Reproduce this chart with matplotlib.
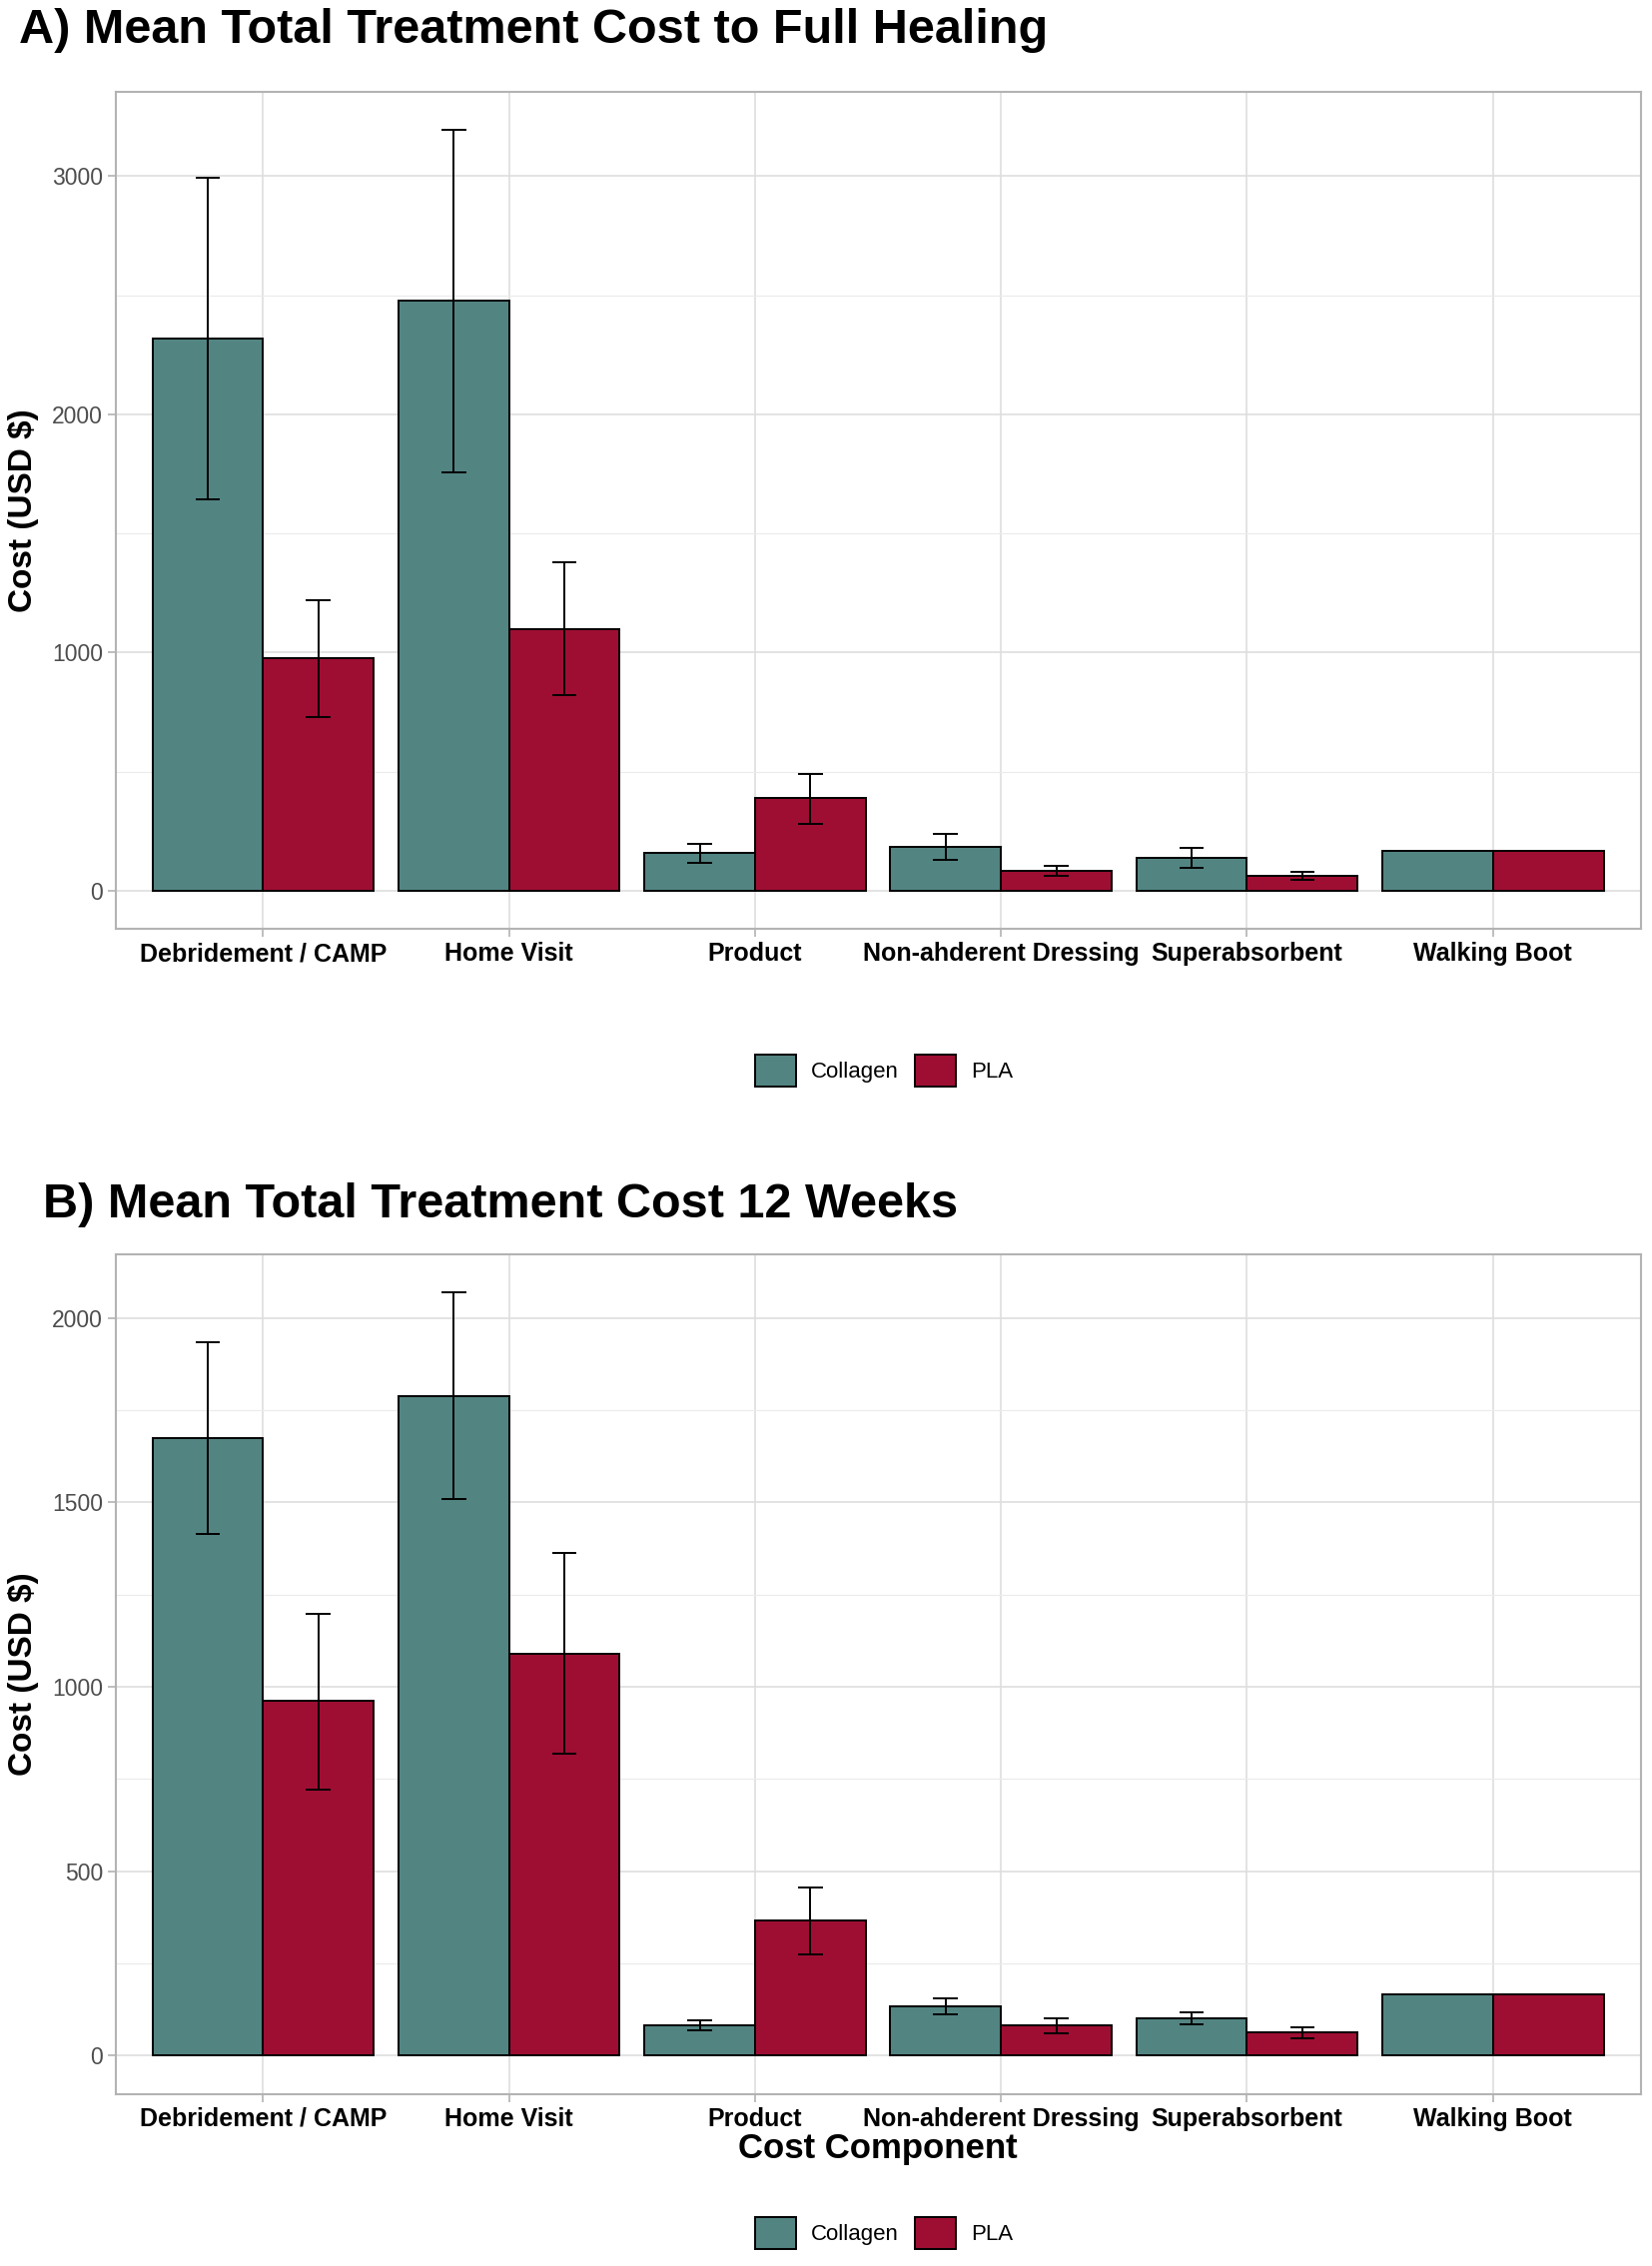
import numpy as np
import matplotlib
matplotlib.use('Agg')
import matplotlib.pyplot as plt

plt.rcParams['font.family'] = ['Liberation Sans', 'DejaVu Sans']

categories = ["Debridement / CAMP", "Home Visit", "Product",
              "Non-ahderent Dressing", "Superabsorbent", "Walking Boot"]
groups = ["Collagen", "PLA"]
nan = np.nan

# A) cost to full healing
heal_collagen = [2318, 2477, 157, 183, 139, 167]
heal_collagen_lo = [1645, 1758, 119, 129, 96, nan]
heal_collagen_hi = [2995, 3196, 198, 237, 181, nan]
heal_pla = [975, 1100, 388, 84, 63, 167]
heal_pla_lo = [730, 822, 281, 61, 46, nan]
heal_pla_hi = [1219, 1378, 491, 103, 78, nan]

# B) cost at 12 weeks
w12_collagen = [1673, 1789, 82, 135, 102, 167]
w12_collagen_lo = [1413, 1508, 69, 112, 85, nan]
w12_collagen_hi = [1935, 2070, 95, 156, 118, nan]
w12_pla = [962, 1090, 368, 82, 63, 167]
w12_pla_lo = [722, 820, 276, 61, 46, nan]
w12_pla_hi = [1199, 1363, 457, 102, 78, nan]

COL = '#528482'
PLA = '#9E0E32'
W, H = 1654, 2269


def draw_panel(ax, series, major, minor):
    x = np.arange(1, len(categories) + 1)
    for k, (mean, lo, hi, color) in enumerate(series):
        xs = x + (k - 0.5) * 0.45
        ax.bar(xs, mean, width=0.45, color=color, edgecolor='black',
               linewidth=1.4, zorder=3, label=groups[k])
        lo = np.array(lo, float)
        hi = np.array(hi, float)
        ok = ~np.isnan(lo)
        ax.vlines(xs[ok], lo[ok], hi[ok], color='black', lw=1.4, zorder=4)
        ax.hlines(lo[ok], xs[ok] - 0.05, xs[ok] + 0.05, color='black', lw=1.4, zorder=4)
        ax.hlines(hi[ok], xs[ok] - 0.05, xs[ok] + 0.05, color='black', lw=1.4, zorder=4)
    top = max(np.nanmax(np.array(s[2], float)) for s in series)
    ax.set_ylim(-0.05 * top, 1.05 * top)
    ax.set_xlim(0.4, len(categories) + 0.6)
    ax.set_yticks(major)
    ax.set_yticks(minor, minor=True)
    ax.set_xticks(x)
    ax.set_xticklabels(categories, fontweight='bold', fontsize=18)
    ax.tick_params(axis='y', which='major', labelsize=16.5, labelcolor='#4D4D4D',
                   color='#B3B3B3', length=6, width=1.2, pad=3)
    ax.tick_params(axis='x', color='#B3B3B3', length=6, width=1.2, pad=3.5)
    ax.tick_params(axis='y', which='minor', length=0)
    ax.grid(True, which='major', color='#DEDEDE', lw=1.2, zorder=0)
    ax.grid(True, which='minor', axis='y', color='#EBEBEB', lw=0.8, zorder=0)
    ax.set_axisbelow(True)
    for s in ax.spines.values():
        s.set_color('#B3B3B3')
        s.set_linewidth(1.5)


fig = plt.figure(figsize=(W / 100, H / 100), dpi=100)


def add_axes(top_px, bottom_px):
    left, right = 115.6, 1642.5
    return fig.add_axes([left / W, 1 - bottom_px / H, (right - left) / W,
                         (bottom_px - top_px) / H])


axA = add_axes(91.5, 930)
draw_panel(axA, [(heal_collagen, heal_collagen_lo, heal_collagen_hi, COL),
                 (heal_pla, heal_pla_lo, heal_pla_hi, PLA)],
           [0, 1000, 2000, 3000], [500, 1500, 2500])

axB = add_axes(1255.5, 2096.7)
draw_panel(axB, [(w12_collagen, w12_collagen_lo, w12_collagen_hi, COL),
                 (w12_pla, w12_pla_lo, w12_pla_hi, PLA)],
           [0, 500, 1000, 1500, 2000], [250, 750, 1250, 1750])

fig.text(19 / W, 1 - 43.3 / H, "A) Mean Total Treatment Cost to Full Healing",
         fontsize=35, fontweight='bold', ha='left', va='baseline')
fig.text(43 / W, 1 - 1219 / H, "B) Mean Total Treatment Cost 12 Weeks",
         fontsize=35, fontweight='bold', ha='left', va='baseline')

for yc in [(91.5 + 930) / 2, (1255.5 + 2096.7) / 2]:
    fig.text(24 / W, 1 - yc / H, "Cost (USD $)", rotation=90, fontsize=24,
             fontweight='bold', ha='center', va='center')

fig.text(879 / W, 1 - 2152 / H, "Cost Component", fontsize=25,
         fontweight='bold', ha='center', va='center')

for ax, yc in [(axA, 1072), (axB, 2236)]:
    ax.legend(loc='center', bbox_to_anchor=(885 / W, 1 - yc / H),
              bbox_transform=fig.transFigure, ncol=2, frameon=False,
              fontsize=16, handlelength=1.85, handleheight=1.9,
              handletextpad=0.7, columnspacing=0.7)

fig.savefig('out.png', dpi=100)
